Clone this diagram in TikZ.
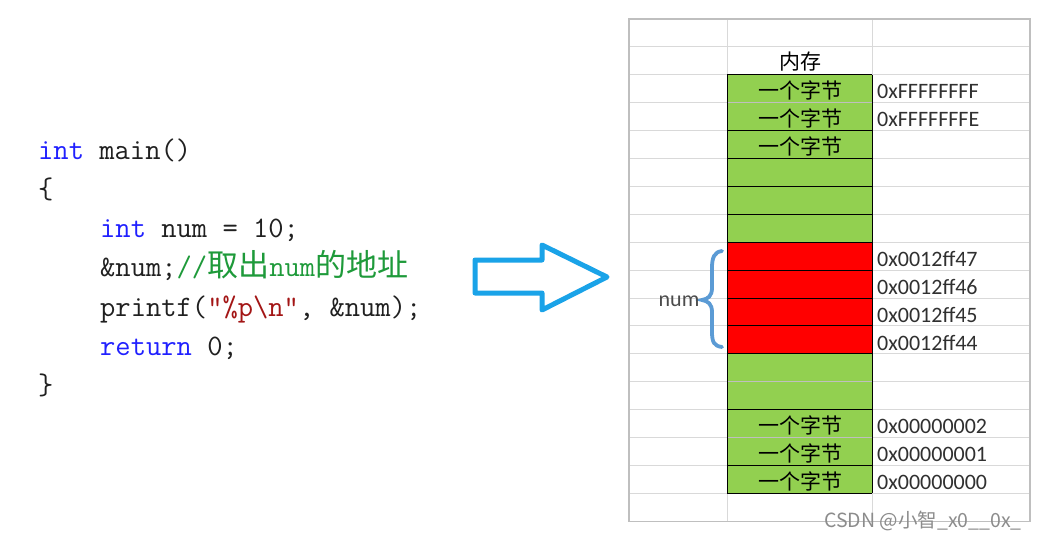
\documentclass[tikz,border=0pt]{standalone}
\usepackage{fontspec}
\newfontfamily\cjk{Noto Sans CJK SC}
\newfontfamily\cali{Carlito}
\definecolor{cellgreen}{HTML}{92D050}
\definecolor{cellred}{HTML}{FF0000}
\definecolor{gridgray}{HTML}{D9D9D9}
\definecolor{bordergray}{HTML}{BFBFBF}
\definecolor{kwblue}{HTML}{2020FF}
\definecolor{cmtgreen}{HTML}{1E9A3A}
\definecolor{strred}{HTML}{A31515}
\definecolor{codeblack}{HTML}{202020}
\definecolor{arrowblue}{HTML}{1AA3E8}
\definecolor{bracebl}{HTML}{5B9BD5}
\definecolor{celltext}{HTML}{303030}
\newcommand{\kw}[1]{\textcolor{kwblue}{#1}}
\tikzset{
  code/.style={anchor=base west, inner sep=0pt, text=codeblack,
    font=\fontsize{29.7}{35}\selectfont\ttfamily},
  bytetxt/.style={inner sep=0pt, text=black, font=\cjk\fontsize{21}{25}\selectfont},
  addr/.style={anchor=west, inner sep=0pt, text=celltext, font=\cali\fontsize{22}{25}\selectfont},
  gridline/.style={draw=gridgray, line width=0.9pt},
  blackline/.style={draw=black, line width=0.9pt},
}
\begin{document}
\begin{tikzpicture}[x=1pt,y=-1pt]
\useasboundingbox (0,0) rectangle (1037,539);
\fill[white] (0,0) rectangle (1037,539);

% ---------------- code ----------------
\node[code] (l1) at (38,159) {\kw{int} main()};
\node[code] (l2) at (38,198.3) {\{};
\node[code] (l3) at (100,237.6) {\kw{int} num = 10;};
\node[code] (l4) at (100,276.9) {\&num;\textcolor{cmtgreen}{//{\cjk\fontsize{31}{35}\selectfont 取出}num{\cjk\fontsize{31}{35}\selectfont 的地址}}};
\node[code] (l5) at (100,316.2) {printf(\textcolor{strred}{"\%p\textbackslash n"}, \&num);};
\node[code] (l6) at (100,355.5) {\kw{return} 0;};
\node[code] (l7) at (38,394.8) {\}};

% ---------------- arrow ----------------
\draw[arrowblue, line width=5pt, line join=round, fill=white]
  (475,260) -- (542,260) -- (542,245) -- (607,277) -- (542,310) -- (542,293) -- (475,293) -- cycle;

% ---------------- table ----------------
% grid
\foreach \i in {1,...,17} {
  \draw[gridline] (629,{19+27.9*\i}) -- (1030,{19+27.9*\i});
}
\draw[gridline] (727,19) -- (727,521.2);
\draw[gridline] (872,19) -- (872,521.2);
\draw[draw=bordergray, line width=1.2pt] (629,19) rectangle (1030,521.2);

% fills
\fill[cellgreen] (727,74.8) rectangle (872,242.2);
\fill[cellred] (727,242.2) rectangle (872,353.8);
\fill[cellgreen] (727,353.8) rectangle (872,493.3);

% light lines inside green
\foreach \y in {102.7,381.7,437.5} {
  \draw[draw=black!25, line width=0.8pt] (727,\y) -- (872,\y);
}
% black lines
\foreach \y in {74.8,130.6,158.5,186.4,214.3,242.2,270.1,298,325.9,353.8,409.6,465.4,493.3} {
  \draw[blackline] (727,\y) -- (872,\y);
}
\draw[blackline] (727,74.8) -- (727,493.3);
\draw[blackline] (872,74.8) -- (872,493.3);

% texts
\node[bytetxt, anchor=base] (mem) at (800,69) {内存};
\node[bytetxt] (b1) at (800,90.5) {一个字节};
\node[bytetxt] (b2) at (800,118.4) {一个字节};
\node[bytetxt] (b3) at (800,146.3) {一个字节};
\node[bytetxt] (b4) at (800,425.3) {一个字节};
\node[bytetxt] (b5) at (800,453.2) {一个字节};
\node[bytetxt] (b6) at (800,481.1) {一个字节};

\node[addr] (a1) at (877,91.5) {0xFFFFFFFF};
\node[addr] (a2) at (877,119.4) {0xFFFFFFFE};
\node[addr] (a3) at (877,259) {0x0012ff47};
\node[addr] (a4) at (877,286.9) {0x0012ff46};
\node[addr] (a5) at (877,314.8) {0x0012ff45};
\node[addr] (a6) at (877,342.7) {0x0012ff44};
\node[addr] (a7) at (877,426.3) {0x00000002};
\node[addr] (a8) at (877,454.2) {0x00000001};
\node[addr] (a9) at (877,482.1) {0x00000000};

% brace and label
\draw[bracebl, line width=3.8pt, line cap=round]
  (722,251) .. controls (714,252) and (712,258) .. (712,268) -- (712,288)
  .. controls (712,296) and (708,299) .. (702,300)
  .. controls (708,301) and (712,304) .. (712,312) -- (712,332)
  .. controls (712,342) and (714,346) .. (722,347);
\node[addr, anchor=center, text=black!70] (numlbl) at (679,301) {num};

% watermark
\node[inner sep=0pt, anchor=east, text=black!45, font=\cjk\fontsize{19.5}{22}\selectfont] (wm) at (1022,521) {CSDN @小智\_x0\_\_0x\_};
\end{tikzpicture}
\end{document}
